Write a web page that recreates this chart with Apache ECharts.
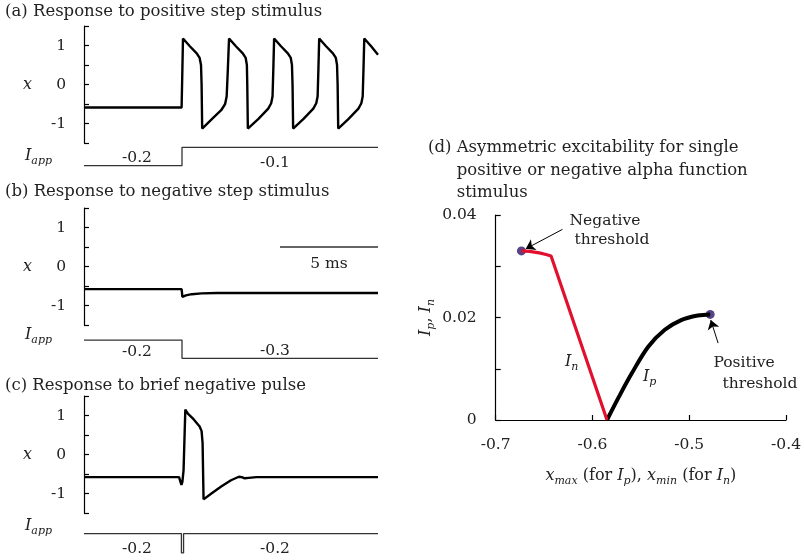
<!DOCTYPE html>
<html lang="en">
<head>
<meta charset="UTF-8">
<title>Excitability responses</title>
<script src="https://cdn.jsdelivr.net/npm/echarts@6.0.0/dist/echarts.min.js"></script>
<style>html,body{margin:0;padding:0;background:#fff;}</style>
</head>
<body>
<div id="main" style="width:804px;height:560px;"></div>
<script type="text/javascript">
// membrane variable x against time (ms)
var respA = [
    [0, -0.59], [4.98, -0.59], [5.02, 0.4], [5.05, 1.18], [5.4, 0.98], [5.75, 0.8], [5.9, 0.68], [5.97, 0.5], [6.0, 0.0], [6.03, -1.13],
    [6.6, -0.85], [7.0, -0.66], [7.2, -0.5], [7.28, -0.3], [7.34, 0.4], [7.40, 1.18],
    [7.75, 0.98], [8.1, 0.8], [8.25, 0.68], [8.31, 0.5], [8.33, 0.0], [8.36, -1.13],
    [8.9, -0.88], [9.4, -0.62], [9.55, -0.48], [9.62, -0.3], [9.66, 0.4], [9.70, 1.18],
    [10.05, 0.98], [10.4, 0.8], [10.55, 0.68], [10.61, 0.5], [10.64, 0.0], [10.67, -1.13],
    [11.2, -0.88], [11.7, -0.62], [11.85, -0.48], [11.92, -0.3], [11.96, 0.4], [12.0, 1.18],
    [12.35, 0.98], [12.7, 0.8], [12.85, 0.68], [12.91, 0.5], [12.94, 0.0], [12.97, -1.13],
    [13.5, -0.88], [14.0, -0.62], [14.15, -0.48], [14.22, -0.3], [14.26, 0.4], [14.30, 1.18],
    [14.65, 0.98], [15, 0.76]
];
var respB = [[0, -0.58], [4.98, -0.58], [5.02, -0.78], [5.2, -0.74], [5.5, -0.71], [6.0, -0.69], [6.8, -0.68], [15, -0.68]];
var respC = [
    [0, -0.58], [4.85, -0.58], [4.92, -0.62], [4.97, -0.78], [5.02, -0.7], [5.08, -0.4], [5.12, 0.3], [5.17, 1.15],
    [5.3, 1.05], [5.6, 0.9], [5.9, 0.72], [6.0, 0.6], [6.05, 0.3], [6.1, -1.15],
    [6.5, -1.0], [7.0, -0.82], [7.5, -0.66], [7.9, -0.57], [8.05, -0.58], [8.2, -0.61], [8.4, -0.6], [8.8, -0.58], [15, -0.58]
];
// applied current I_app (step changes)
var stimA = [[0, -0.2], [5, -0.1], [15, -0.1]];
var stimB = [[0, -0.2], [5, -0.3], [15, -0.3]];
var stimC = [[0, -0.2], [4.97, -0.31], [5.08, -0.2], [15, -0.2]];
var scaleBar = [[10, 0.5], [15, 0.5]];

// panel d: threshold amplitude vs extreme value
var curveIn = [[-0.6734, 0.033], [-0.665, 0.0329], [-0.655, 0.0326], [-0.648, 0.0323], [-0.6428, 0.032], [-0.585, 0]];
var curveIp = [[-0.585, 0], [-0.5726, 0.00455], [-0.5594, 0.0091], [-0.5424, 0.0143], [-0.5253, 0.0176], [-0.5084, 0.0195], [-0.4913, 0.0204], [-0.4784, 0.0206]];
var thresholds = [[-0.6734, 0.033], [-0.4784, 0.0206]];
var negArrow = [[-0.631, 0.0372], [-0.6689, 0.0334]];
var posArrow = [[-0.4702, 0.0150], [-0.4778, 0.0195]];

var traceTickLabels = ['-1', '0', '1'];
var dYLabels = ['0', '0.02', '0.04'];

var FONT = 'DejaVu Serif';
var TXT = '#222';

var myChart = echarts.init(document.getElementById('main'));

function traceY(i) {
    return {
        gridIndex: i, type: 'value', min: -1.5, max: 1.5, interval: 0.5,
        name: 'x', nameLocation: 'middle', nameRotate: 0, nameGap: 52,
        nameTextStyle: {fontFamily: FONT, fontStyle: 'italic', fontSize: 16, color: TXT},
        axisLine: {show: true, lineStyle: {color: '#000', width: 1.2}},
        axisTick: {show: true, inside: true, length: 5, lineStyle: {color: '#000', width: 1.2}},
        axisLabel: {
            margin: 18, fontFamily: FONT, fontSize: 15.5, color: TXT,
            formatter: function (v) {
                var s = String(Math.round(v * 10) / 10);
                return traceTickLabels.indexOf(s) >= 0 ? s : '';
            }
        },
        splitLine: {show: false}
    };
}
function hiddenY(i, lo, hi) {
    return {gridIndex: i, type: 'value', min: lo, max: hi, show: false};
}
function timeX(i) {
    return {gridIndex: i, type: 'value', min: 0, max: 15, show: false};
}
function lineSeries(i, data, width, color) {
    return {
        type: 'line', xAxisIndex: i, yAxisIndex: i, data: data, showSymbol: false, symbol: 'none',
        lineStyle: {color: color, width: width}, clip: false, animation: false
    };
}
function stepSeries(i, data) {
    var s = lineSeries(i, data, 1.3, '#333');
    s.step = 'end';
    return s;
}
function txt(x, y, text, opt) {
    opt = opt || {};
    return {
        type: 'text', x: x, y: y, silent: true,
        style: {
            text: text, fontFamily: FONT, fontSize: opt.size || 16.5, fontStyle: opt.italic ? 'italic' : 'normal',
            fill: TXT, align: opt.align || 'left', textAlign: opt.align || 'left',
            verticalAlign: 'middle', textVerticalAlign: 'middle', rich: opt.rich
        }
    };
}
var subRich = {
    i: {fontFamily: FONT, fontStyle: 'italic', fontSize: 16, lineHeight: 22, verticalAlign: 'middle', color: TXT},
    s: {fontFamily: FONT, fontStyle: 'italic', fontSize: 11, lineHeight: 11, verticalAlign: 'bottom', color: TXT},
    r: {fontFamily: FONT, fontSize: 16, lineHeight: 22, verticalAlign: 'middle', color: TXT}
};
var iappText = '{i|I}{s|app}';

var ipSeries = lineSeries(6, curveIp, 4, '#000');
ipSeries.smooth = 0.35;

var option = {
    backgroundColor: '#fff',
    animation: false,
    grid: [
        {left: 84, top: 26, width: 294, height: 117},
        {left: 84, top: 138.1, width: 294, height: 36.8},
        {left: 84, top: 208, width: 294, height: 117},
        {left: 84, top: 330.9, width: 294, height: 36.6},
        {left: 84, top: 396, width: 294, height: 117},
        {left: 84, top: 524.8, width: 294, height: 36.8},
        {left: 495.7, top: 215, width: 293.6, height: 205}
    ],
    xAxis: [
        timeX(0), timeX(1), timeX(2), timeX(3), timeX(4), timeX(5),
        {
            gridIndex: 6, type: 'value', min: -0.7, max: -0.4, interval: 0.1,
            name: '{i|x}{s|max}{r| (for }{i|I}{s|p}{r|), }{i|x}{s|min}{r| (for }{i|I}{s|n}{r|)}',
            nameLocation: 'middle', nameGap: 45,
            nameTextStyle: {rich: subRich},
            axisLine: {show: true, onZero: false, lineStyle: {color: '#000', width: 1.2}},
            axisTick: {show: true, inside: true, length: 5, lineStyle: {color: '#000', width: 1.2}},
            axisLabel: {margin: 17, fontFamily: FONT, fontSize: 15.5, color: TXT, formatter: function (v) { return v.toFixed(1); }},
            splitLine: {show: false}
        }
    ],
    yAxis: [
        traceY(0), hiddenY(1, -0.25, -0.05), traceY(2), hiddenY(3, -0.35, -0.15), traceY(4), hiddenY(5, -0.35, -0.15),
        {
            gridIndex: 6, type: 'value', min: 0, max: 0.04, interval: 0.01,
            name: '{i|I}{s|p}{r|, }{i|I}{s|n}', nameLocation: 'middle', nameRotate: 90, nameGap: 59,
            nameTextStyle: {rich: subRich},
            axisLine: {show: true, lineStyle: {color: '#000', width: 1.2}},
            axisTick: {show: true, inside: true, length: 5, lineStyle: {color: '#000', width: 1.2}},
            axisLabel: {
                margin: 19, fontFamily: FONT, fontSize: 15.5, color: TXT,
                formatter: function (v) {
                    var s = String(Math.round(v * 1000) / 1000);
                    return dYLabels.indexOf(s) >= 0 ? s : '';
                }
            },
            splitLine: {show: false}
        }
    ],
    series: [
        lineSeries(0, respA, 2.4, '#000'),
        stepSeries(1, stimA),
        lineSeries(2, respB, 2.4, '#000'),
        lineSeries(2, scaleBar, 1.3, '#333'),
        stepSeries(3, stimB),
        lineSeries(4, respC, 2.4, '#000'),
        stepSeries(5, stimC),
        ipSeries,
        lineSeries(6, curveIn, 3.2, '#e0102e'),
        {
            type: 'scatter', xAxisIndex: 6, yAxisIndex: 6, data: thresholds, symbolSize: 9,
            itemStyle: {color: '#2d1468'}, animation: false
        },
        {
            type: 'lines', coordinateSystem: 'cartesian2d', xAxisIndex: 6, yAxisIndex: 6,
            symbol: ['none', 'arrow'], symbolSize: 9,
            lineStyle: {color: '#000', width: 1, opacity: 1, curveness: 0},
            data: [{coords: negArrow}, {coords: posArrow}], animation: false
        }
    ],
    graphic: [
        txt(5, 12, '(a) Response to positive step stimulus'),
        txt(5, 192, '(b) Response to negative step stimulus'),
        txt(5, 386, '(c) Response to brief negative pulse'),
        txt(428, 148, '(d) Asymmetric excitability for single'),
        txt(456.7, 170.5, 'positive or negative alpha function'),
        txt(456.7, 193, 'stimulus'),
        txt(25, 156, iappText, {rich: subRich}),
        txt(25, 335, iappText, {rich: subRich}),
        txt(25, 526, iappText, {rich: subRich}),
        txt(137, 158, '-0.2', {align: 'center', size: 15.5}),
        txt(275, 163, '-0.1', {align: 'center', size: 15.5}),
        txt(137, 352, '-0.2', {align: 'center', size: 15.5}),
        txt(275, 351, '-0.3', {align: 'center', size: 15.5}),
        txt(137, 549, '-0.2', {align: 'center', size: 15.5}),
        txt(275, 549, '-0.2', {align: 'center', size: 15.5}),
        txt(329, 264, '5 ms', {align: 'center', size: 15.5}),
        txt(605, 221, 'Negative', {align: 'center', size: 15.5}),
        txt(612, 240, 'threshold', {align: 'center', size: 15.5}),
        txt(744, 363, 'Positive', {align: 'center', size: 15.5}),
        txt(760, 384, 'threshold', {align: 'center', size: 15.5}),
        txt(565, 362, '{i|I}{s|n}', {rich: subRich}),
        txt(643, 377, '{i|I}{s|p}', {rich: subRich})
    ]
};

myChart.setOption(option);
</script>
</body>
</html>
